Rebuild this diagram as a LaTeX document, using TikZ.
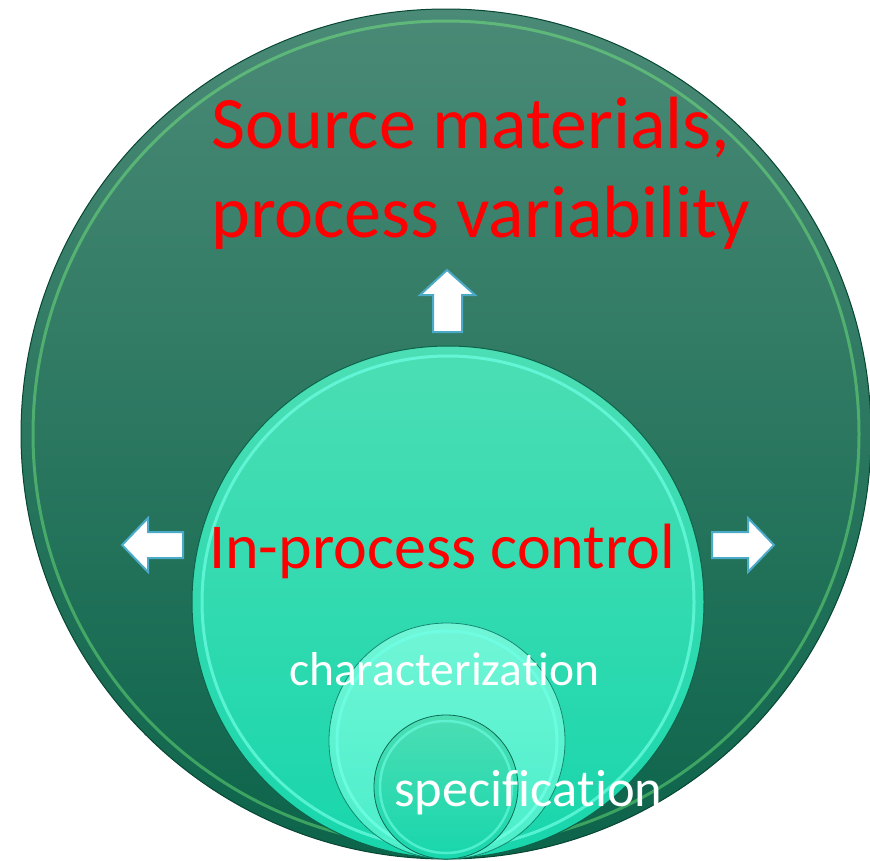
\documentclass[tikz,border=0pt]{standalone}
\usepackage{fontspec}
\setmainfont{Carlito}[RawFeature={-liga;-clig;-dlig;-calt}]

\definecolor{vertbas}{RGB}{12,100,74}
\definecolor{vertmilieu}{RGB}{24,116,90}
\definecolor{verthaut}{RGB}{74,138,118}
\definecolor{turqbas}{RGB}{24,214,172}
\definecolor{turqhaut}{RGB}{76,222,180}
\definecolor{clairbas}{RGB}{80,240,205}
\definecolor{clairhaut}{RGB}{120,250,220}
\definecolor{liseret}{RGB}{110,255,228}
\definecolor{bordfleche}{RGB}{75,170,200}

\tikzset{
  fleche/.style={fill=white, draw=bordfleche, line width=2pt, line join=miter},
  rouge/.style={text=red, inner sep=0pt, anchor=base west},
  blanc/.style={text=white, inner sep=0pt, anchor=base west}
}

\begin{document}
\begin{tikzpicture}[x=1pt,y=-1pt]
  \useasboundingbox (0,0) rectangle (870,860);

  % Centres des cercles
  \coordinate (O1) at (446,434);
  \coordinate (O2) at (448,602);
  \coordinate (O3) at (447,741);
  \coordinate (O4) at (446,787);

  % Grand cercle
  \shade[top color=verthaut, middle color=vertmilieu, bottom color=vertbas, draw=vertbas!70!black, line width=1pt] (O1) circle (425);
  \draw[green!50!white, opacity=0.4, line width=3pt] (O1) circle (413);

  % Cercle du controle
  \shade[top color=turqhaut, bottom color=turqbas, draw=vertbas, line width=1pt] (O2) circle (256);
  \draw[liseret, opacity=0.7, line width=3pt] (O2) circle (246);

  % Cercle de caracterisation
  \shade[top color=clairhaut, bottom color=clairbas, draw=turqbas!60!black, line width=0.8pt, opacity=0.9] (O3) circle (118);
  \draw[liseret, opacity=0.8, line width=3pt] (O3) circle (110);

  % Cercle de specification
  \shade[top color=turqhaut, bottom color=turqbas, draw=turqbas!50!black, line width=0.8pt] (O4) circle (72);
  \draw[liseret, opacity=0.6, line width=2.5pt] (O4) circle (66);

  % Fleches
  \draw[fleche] (447,270) -- (475,295) -- (462,295) -- (462,332) -- (433,332) -- (433,295) -- (420,295) -- cycle;
  \draw[fleche] (122,545) -- (148,518) -- (148,532) -- (183,532) -- (183,558) -- (148,558) -- (148,572) -- cycle;
  \draw[fleche] (774,545) -- (748,518) -- (748,532) -- (712,532) -- (712,558) -- (748,558) -- (748,572) -- cycle;

  % Textes
  \node[rouge, font=\fontsize{74}{89}\selectfont, align=left] (source) at (211,237) {Source materials,\\process variability};
  \node[rouge, font=\fontsize{64}{77}\selectfont] (controle) at (209,568) {In-process control};
  \node[blanc, font=\fontsize{47.5}{57}\selectfont] (carac) at (289,685) {characteriza\kern0pt tion};
  \node[blanc, font=\fontsize{52.5}{63}\selectfont] (spec) at (394,806) {specif\kern0pt ica\kern0pt tion};
\end{tikzpicture}
\end{document}
